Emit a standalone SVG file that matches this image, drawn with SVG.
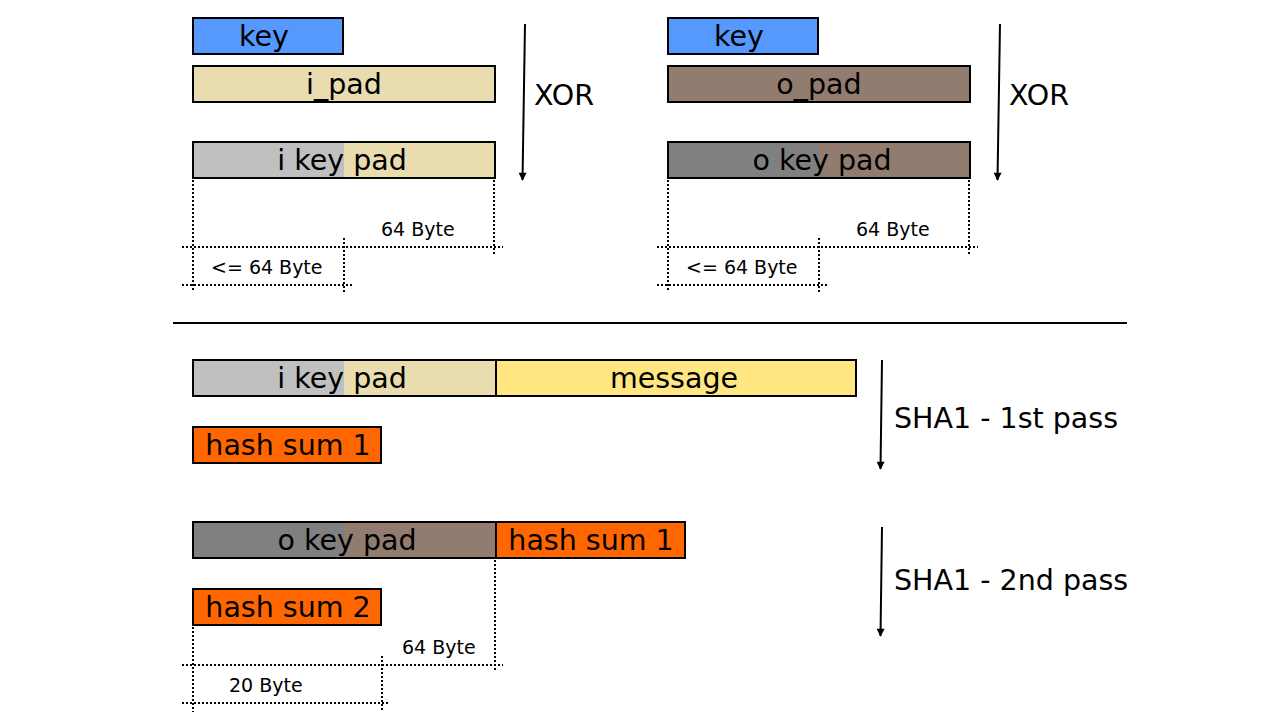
<svg xmlns="http://www.w3.org/2000/svg" width="1280" height="720" viewBox="0 0 1280 720">
<defs>
<style>
.box{stroke:#000;stroke-width:2}
.t{font-family:"DejaVu Sans",sans-serif;font-size:28.5px;fill:#000;text-anchor:middle}
.lbl{font-family:"DejaVu Sans",sans-serif;font-size:28.5px;fill:#000}
.sm{font-family:"DejaVu Sans",sans-serif;font-size:19px;fill:#000}
.dot{stroke:#000;stroke-width:2;stroke-dasharray:2 2;fill:none}
.arr{stroke:#000;stroke-width:2;fill:none;marker-end:url(#ah)}
</style>
<marker id="ah" viewBox="0 0 10 10" refX="9" refY="5" markerWidth="4.5" markerHeight="4" orient="auto" markerUnits="strokeWidth">
<path d="M0,0 L10,5 L0,10 Z" fill="#000"/>
</marker>
</defs>
<rect width="1280" height="720" fill="#fff"/>

<g id="key-left"><rect class="box" x="193" y="18" width="150" height="36" fill="#5599ff"/><text class="t" x="264" y="46">key</text></g>
<g id="ipad"><rect class="box" x="193" y="66" width="302" height="36" fill="#e9ddaf"/><text class="t" x="344" y="94">i_pad</text></g>
<g id="ikeypad-top"><rect x="193" y="142" width="151" height="36" fill="#c0c0c0"/><rect x="344" y="142" width="151" height="36" fill="#e9ddaf"/><rect class="box" x="193" y="142" width="302" height="36" fill="none"/><text class="t" x="342" y="170">i key pad</text></g>

<g id="key-right"><rect class="box" x="668" y="18" width="150" height="36" fill="#5599ff"/><text class="t" x="739" y="46">key</text></g>
<g id="opad"><rect class="box" x="668" y="66" width="302" height="36" fill="#917c6f"/><text class="t" x="819" y="94">o_pad</text></g>
<g id="okeypad-top"><rect x="668" y="142" width="151" height="36" fill="#808080"/><rect x="819" y="142" width="151" height="36" fill="#917c6f"/><rect class="box" x="668" y="142" width="302" height="36" fill="none"/><text class="t" x="822" y="170">o key pad</text></g>

<g id="ikeypad-bottom"><rect x="193" y="360" width="151" height="36" fill="#c0c0c0"/><rect x="344" y="360" width="152" height="36" fill="#e9ddaf"/><rect class="box" x="193" y="360" width="303" height="36" fill="none"/><text class="t" x="342" y="388">i key pad</text></g>
<g id="message"><rect class="box" x="496" y="360" width="360" height="36" fill="#ffe680"/><text class="t" x="674" y="388">message</text></g>
<g id="hash1-a"><rect class="box" x="193" y="427" width="188" height="36" fill="#ff6600"/><text class="t" x="288" y="455">hash sum 1</text></g>

<g id="okeypad-bottom"><rect x="193" y="522" width="151" height="36" fill="#808080"/><rect x="344" y="522" width="152" height="36" fill="#917c6f"/><rect class="box" x="193" y="522" width="303" height="36" fill="none"/><text class="t" x="347" y="550">o key pad</text></g>
<g id="hash1-b"><rect class="box" x="496" y="522" width="189" height="36" fill="#ff6600"/><text class="t" x="591" y="550">hash sum 1</text></g>
<g id="hash2"><rect class="box" x="193" y="589" width="188" height="36" fill="#ff6600"/><text class="t" x="288" y="617">hash sum 2</text></g>

<g id="connectors">
<line class="arr" x1="525" y1="24" x2="522.5" y2="180"/>
<line class="arr" x1="1000" y1="24" x2="997.5" y2="180"/>
<line class="arr" x1="882" y1="360" x2="880.5" y2="469"/>
<line class="arr" x1="882" y1="527" x2="880.5" y2="636"/>
<line x1="173" y1="323" x2="1127" y2="323" stroke="#000" stroke-width="2"/>
</g>

<g id="labels">
<text class="lbl" x="534" y="105">XOR</text>
<text class="lbl" x="1009" y="105">XOR</text>
<text class="lbl" x="894" y="428">SHA1 - 1st pass</text>
<text class="lbl" x="894" y="590">SHA1 - 2nd pass</text>
<text class="sm" x="381" y="236">64 Byte</text>
<text class="sm" x="211" y="274">&lt;= 64 Byte</text>
<text class="sm" x="856" y="236">64 Byte</text>
<text class="sm" x="686" y="274">&lt;= 64 Byte</text>
<text class="sm" x="402" y="654">64 Byte</text>
<text class="sm" x="229" y="692">20 Byte</text>
</g>

<g id="dimensions">
<path class="dot" d="M193,180 V292 M494,180 V254 M344,238 V292 M182,247 H503 M182,285 H352"/>
<path class="dot" d="M668,180 V292 M969,180 V254 M819,238 V292 M657,247 H978 M657,285 H827"/>
<path class="dot" d="M193,627 V712 M495,560 V672 M382,656 V712 M182,665 H503 M182,703 H390"/>
</g>
</svg>
